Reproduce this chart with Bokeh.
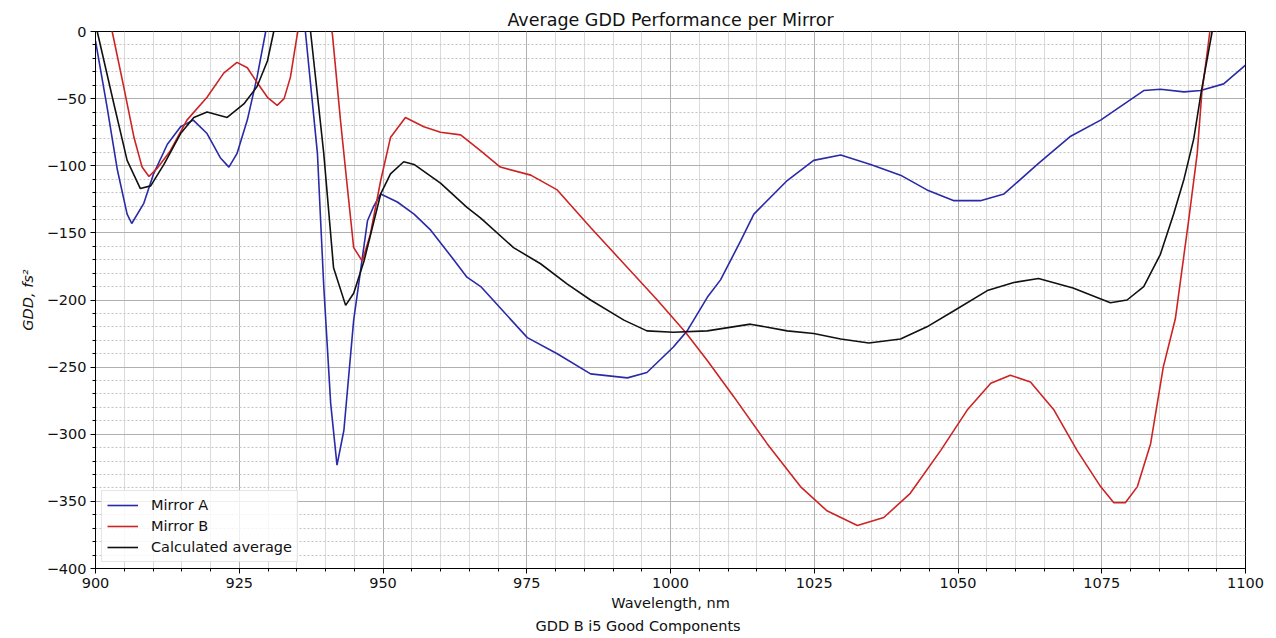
from bokeh.plotting import figure
from bokeh.models import SingleIntervalTicker, Range1d, Title
from bokeh.embed import file_html
from bokeh.resources import INLINE

# ---- data ----
wl_a = [900, 902, 903.8, 905.5, 906.3, 908.4, 910.1, 912.5, 914.8, 917.0, 919.4, 921.7,
        923.2, 924.6, 926.4, 928.1, 929.6, 933.0, 936.5, 938.6, 939.7, 940.9, 942.0,
        943.2, 944.9, 947.3, 948.4, 949.6, 952.5, 955.4, 958.3, 962.3, 964.6, 967.0,
        968.7, 975.1, 980.3, 986.1, 992.5, 995.9, 1000.5, 1002.9, 1006.4, 1008.7,
        1012.2, 1014.5, 1020.3, 1024.9, 1029.6, 1034.8, 1040.0, 1044.6, 1049.3,
        1053.9, 1058.0, 1063.8, 1066.0, 1069.6, 1074.8, 1082.3, 1085.2, 1089.3,
        1092.2, 1096.2, 1100]
gdd_a = [-7, -56, -103, -136, -143, -128, -106, -84, -71, -66, -76, -94,
         -101, -91, -66, -34, 0, 60, 0, -91, -190, -277, -323,
         -297, -215, -141, -130, -121, -127, -136, -148, -170, -183, -190,
         -198, -228, -240, -255, -258, -254, -235, -223, -198, -185,
         -156, -136, -111, -96, -92, -99, -107, -118, -126,
         -126, -121, -99, -91, -78, -66, -44, -43, -45,
         -44, -39, -25]

wl_b = [900, 902.9, 904.9, 906.7, 908.1, 909.3, 910.7, 913.0, 915.9, 919.4, 922.3, 924.6,
        926.4, 928.1, 929.9, 931.6, 932.8, 933.9, 935.1, 938.0, 941.2, 942.6, 943.8,
        944.9, 946.4, 947.8, 949.6, 951.3, 953.9, 957.1, 960.0, 963.5, 967.0, 970.4,
        975.7, 980.3, 986.1, 991.9, 997.7, 1002.6, 1006.4, 1011.0, 1016.8, 1022.6,
        1027.2, 1032.5, 1037.1, 1041.7, 1047.0, 1051.6, 1055.7, 1059.1, 1062.6,
        1066.7, 1070.7, 1074.8, 1077.1, 1079.1, 1081.2, 1083.5, 1085.7, 1087.8,
        1090.1, 1091.6, 1092.4, 1093.3, 1093.8, 1096]
gdd_b = [40, 0, -41, -79, -101, -108, -102, -89, -66, -49, -31, -23,
         -27, -38, -49, -55, -50, -34, -2, 60, -2, -66, -116,
         -161, -171, -151, -111, -79, -64, -71, -75, -77, -89, -101,
         -107, -118, -146, -173, -200, -224, -245, -272, -307, -339,
         -357, -368, -362, -344, -312, -282, -262, -256, -261,
         -282, -312, -339, -351, -351, -339, -307, -250, -214,
         -141, -91, -46, -17, 0, 50]

wl_avg = [900, 900.3, 903.2, 905.5, 907.8, 909.6, 911.9, 914.8, 917.1, 919.4, 922.9,
          925.8, 928.1, 929.9, 931.0, 934.0, 937.4, 939.7, 941.4, 943.5, 944.9, 946.7,
          949.6, 951.3, 953.6, 955.4, 960.0, 964.6, 967.0, 972.7, 977.4, 982.0, 986.1,
          991.9, 995.9, 1000.5, 1006.4, 1013.9, 1020.3, 1024.9, 1029.6, 1034.5,
          1040.0, 1044.6, 1049.3, 1055.1, 1059.7, 1064.0, 1070.0, 1076.5, 1079.4,
          1082.3, 1085.2, 1087.5, 1089.3, 1091.0, 1092.3, 1094.2, 1096]
gdd_avg = [5, 0, -54, -96, -117, -115, -99, -76, -64, -60, -64,
           -54, -41, -22, 0, 50, 0, -91, -176, -204, -195, -171,
           -121, -106, -97, -99, -113, -131, -139, -161, -173, -188, -200,
           -215, -223, -224, -223, -218, -223, -225, -229, -232,
           -229, -220, -208, -193, -187, -184, -191, -202, -200,
           -190, -166, -136, -110, -80, -45, 0, 30]

series_names = ["Mirror A", "Mirror B", "Calculated average"]
y_tick_values = [0, -50, -100, -150, -200, -250, -300, -350, -400]
y_tick_labels = ["0", "\u221250", "\u2212100", "\u2212150", "\u2212200",
                 "\u2212250", "\u2212300", "\u2212350", "\u2212400"]

FONT = "DejaVu Sans"

p = figure(width=1276, height=638, output_backend="svg", toolbar_location=None,
           x_range=Range1d(900, 1100), y_range=Range1d(-400, 0),
           min_border_left=95, min_border_right=31, min_border_top=31,
           min_border_bottom=70, background_fill_color="white",
           border_fill_color="white")

p.title.text = "Average GDD Performance per Mirror"
p.title.align = "center"
p.title.text_font = FONT
p.title.text_font_size = "17.5px"
p.title.text_font_style = "normal"
p.title.text_color = "#111111"
p.title.standoff = 4

# axes
p.xaxis.ticker = SingleIntervalTicker(interval=25, num_minor_ticks=5)
p.yaxis.ticker = SingleIntervalTicker(interval=50, num_minor_ticks=5)
p.yaxis.major_label_overrides = dict(zip(y_tick_values, y_tick_labels))
p.xaxis.axis_label = "Wavelength, nm"
p.yaxis.axis_label = "GDD, fs\u00b2"
for ax in (p.xaxis[0], p.yaxis[0]):
    ax.major_label_text_font = FONT
    ax.major_label_text_font_size = "14.5px"
    ax.major_label_text_color = "#111111"
    ax.axis_label_text_font = FONT
    ax.axis_label_text_font_size = "14.5px"
    ax.axis_label_text_color = "#111111"
    ax.axis_line_color = "black"
    ax.major_tick_line_color = "black"
    ax.minor_tick_line_color = "black"
    ax.major_tick_in = 0
    ax.major_tick_out = 5
    ax.minor_tick_in = 0
    ax.minor_tick_out = 3
    ax.major_label_standoff = 4
p.xaxis.axis_label_text_font_style = "normal"
p.yaxis.axis_label_text_font_style = "italic"
p.xaxis.axis_label_standoff = 4
p.yaxis.axis_label_standoff = 8

sub = Title(text="GDD B i5 Good Components", align="left", offset=440,
            text_font=FONT, text_font_size="14.5px", text_font_style="normal",
            text_color="#111111", standoff=4)
p.add_layout(sub, "below")

# grid
p.outline_line_color = "black"
p.outline_line_width = 1
p.xgrid.grid_line_color = "#b0b0b0"
p.ygrid.grid_line_color = "#b0b0b0"
p.xgrid.minor_grid_line_color = "#dadada"
p.ygrid.minor_grid_line_color = "#c4c4c4"
p.ygrid.minor_grid_line_dash = "2 2"

colors = ["#2a2aa8", "#cc2424", "#111111"]
xs = [wl_a, wl_b, wl_avg]
ys = [gdd_a, gdd_b, gdd_avg]
for x, y, c, n in zip(xs, ys, colors, series_names):
    p.line(x, y, line_color=c, line_width=1.6, legend_label=n)

lg = p.legend[0]
lg.location = "bottom_left"
lg.margin = 6
lg.padding = 5
lg.spacing = 3
lg.label_height = 18
lg.glyph_height = 18
lg.glyph_width = 31
lg.label_standoff = 13
lg.label_text_font = FONT
lg.label_text_font_size = "14.5px"
lg.label_text_color = "#111111"
lg.border_line_color = "#cccccc"
lg.background_fill_color = "white"
lg.background_fill_alpha = 0.8

open("out.html", "w").write(file_html(p, INLINE))
